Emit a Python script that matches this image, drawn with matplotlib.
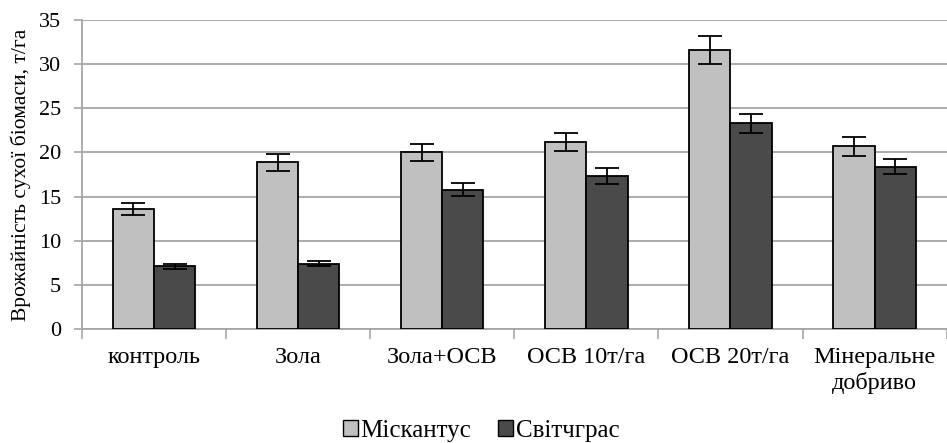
import numpy as np
import matplotlib.pyplot as plt
from matplotlib.patches import Patch

plt.rcParams['font.family'] = ['Liberation Serif', 'DejaVu Serif']

categories = ['контроль', 'Зола', 'Зола+ОСВ', 'ОСВ 10т/га', 'ОСВ 20т/га', 'Мінеральне\nдобриво']
miscanthus = [13.6, 18.9, 20.0, 21.2, 31.6, 20.7]
miscanthus_err = [0.7, 0.95, 0.95, 1.0, 1.55, 1.05]
switchgrass = [7.1, 7.4, 15.8, 17.3, 23.3, 18.4]
switchgrass_err = [0.3, 0.3, 0.75, 0.9, 1.1, 0.85]
series_names = ['Міскантус', 'Світчграс']

LIGHT = '#c0c0c0'
DARK = '#4a4a4a'
GRID = '#a6a6a6'

fig = plt.figure(figsize=(9.47, 4.43), dpi=100)
ax = fig.add_axes([0.0866, 0.257, 0.913, 0.698])

x = np.arange(len(categories))
w = 0.286
err_kw = dict(ecolor='black', elinewidth=1.3, capsize=8.6, capthick=1.3)
ax.bar(x - w / 2, miscanthus, w, yerr=miscanthus_err, color=LIGHT,
       edgecolor='black', linewidth=1.3, error_kw=err_kw, zorder=3)
ax.bar(x + w / 2, switchgrass, w, yerr=switchgrass_err, color=DARK,
       edgecolor='black', linewidth=1.3, error_kw=err_kw, zorder=3)

ax.set_xlim(-0.5, len(categories) - 0.5)
ax.set_ylim(0, 35)
ax.set_yticks(np.arange(0, 36, 5))
ax.yaxis.grid(True, color=GRID, linewidth=1.3, zorder=0)
ax.set_axisbelow(True)

# category names centred, tick marks on the group boundaries
ax.set_xticks(x)
ax.set_xticklabels(categories, fontsize=17.5, linespacing=1.2)
ax.set_xticks(np.arange(-0.5, len(categories)), minor=True)
ax.tick_params(axis='x', which='major', length=0, pad=13)
ax.tick_params(axis='x', which='minor', length=7, width=1.2, color=GRID, direction='out')
ax.tick_params(axis='y', length=6, width=1.2, color=GRID, labelsize=16, pad=9)

for side in ['top', 'right']:
    ax.spines[side].set_visible(False)
for side in ['left', 'bottom']:
    ax.spines[side].set_color(GRID)
    ax.spines[side].set_linewidth(1.3)

ax.set_ylabel('Врожайність сухої біомаси, т/га', fontsize=15.5)
ax.yaxis.set_label_coords(-0.059, 0.5)

handles = [Patch(facecolor=LIGHT, edgecolor='black', linewidth=1.0),
           Patch(facecolor=DARK, edgecolor='black', linewidth=1.0)]
fig.legend(handles, series_names, loc='center', bbox_to_anchor=(0.508, 0.027),
           ncol=2, frameon=False, fontsize=18, handlelength=0.6, handleheight=0.6,
           handletextpad=0.1, columnspacing=1.1, borderpad=0, borderaxespad=0)

fig.savefig('out.png', dpi=100)
